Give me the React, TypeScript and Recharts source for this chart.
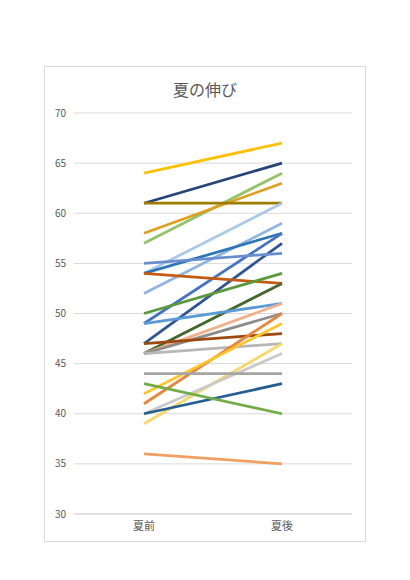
import { CartesianGrid, Line, LineChart, XAxis, YAxis } from "recharts";

const categories = ["夏前", "夏後"];
const yTicks = [30, 35, 40, 45, 50, 55, 60, 65, 70];

// one entry per student: value before summer, value after summer
const before = [64, 61, 57, 58, 61, 54, 52, 54, 49, 47, 55, 54, 50, 46, 49, 46, 46, 47, 46, 41, 42, 39, 40, 44, 40, 43, 36];
const after = [67, 65, 64, 63, 61, 61, 59, 58, 58, 57, 56, 53, 54, 53, 51, 51, 50, 48, 47, 50, 49, 47, 46, 44, 43, 40, 35];
const colors = [
    "#ffc000", "#264478", "#92c46a", "#dfa020", "#9e7c00", "#a9c8e8", "#8fb5e2", "#2e75b6",
    "#4472c4", "#2f5597", "#698ed0", "#c55a11", "#5a9a3c", "#43682b", "#5b9bd5", "#f2b08a",
    "#8c8c8c", "#9e480e", "#b7b7b7", "#e8863c", "#ffc52a", "#f7d866", "#c9c9c9", "#a5a5a5",
    "#255e91", "#70ad47", "#f0a060",
];

const data = categories.map((name, i) => {
    const row: Record<string, string | number> = { name };
    before.forEach((_, k) => {
        row[`s${k}`] = i === 0 ? before[k] : after[k];
    });
    return row;
});

const font = "'Noto Sans CJK JP', 'Noto Sans', sans-serif";

export default function App() {
    return (
        <div
            style={{
                position: "relative",
                marginLeft: 36,
                marginTop: 58,
                width: 320,
                height: 474,
                border: "1px solid #d9d9d9",
                background: "#fff",
                fontFamily: font,
            }}
        >
            <div
                style={{
                    position: "absolute",
                    top: 10,
                    left: 0,
                    width: "100%",
                    textAlign: "center",
                    fontSize: 16,
                    color: "#595959",
                }}
            >
                夏の伸び
            </div>
            <LineChart width={320} height={474} data={data} margin={{ top: 46, right: 13, left: 0, bottom: 0 }}>
                <CartesianGrid vertical={false} stroke="#d9d9d9" />
                <XAxis
                    dataKey="name"
                    padding={{ left: 70, right: 70 }}
                    axisLine={{ stroke: "#d9d9d9" }}
                    tickLine={false}
                    tick={{ fontSize: 11, fill: "#595959", fontFamily: font }}
                    height={27}
                />
                <YAxis
                    domain={[30, 70]}
                    ticks={yTicks}
                    axisLine={false}
                    tickLine={false}
                    width={29}
                    tick={{ fontSize: 10, fill: "#595959", fontFamily: font }}
                />
                {colors.map((c, k) => (
                    <Line
                        key={k}
                        dataKey={`s${k}`}
                        stroke={c}
                        strokeWidth={2.75}
                        dot={false}
                        activeDot={false}
                        isAnimationActive={false}
                    />
                ))}
            </LineChart>
        </div>
    );
}
